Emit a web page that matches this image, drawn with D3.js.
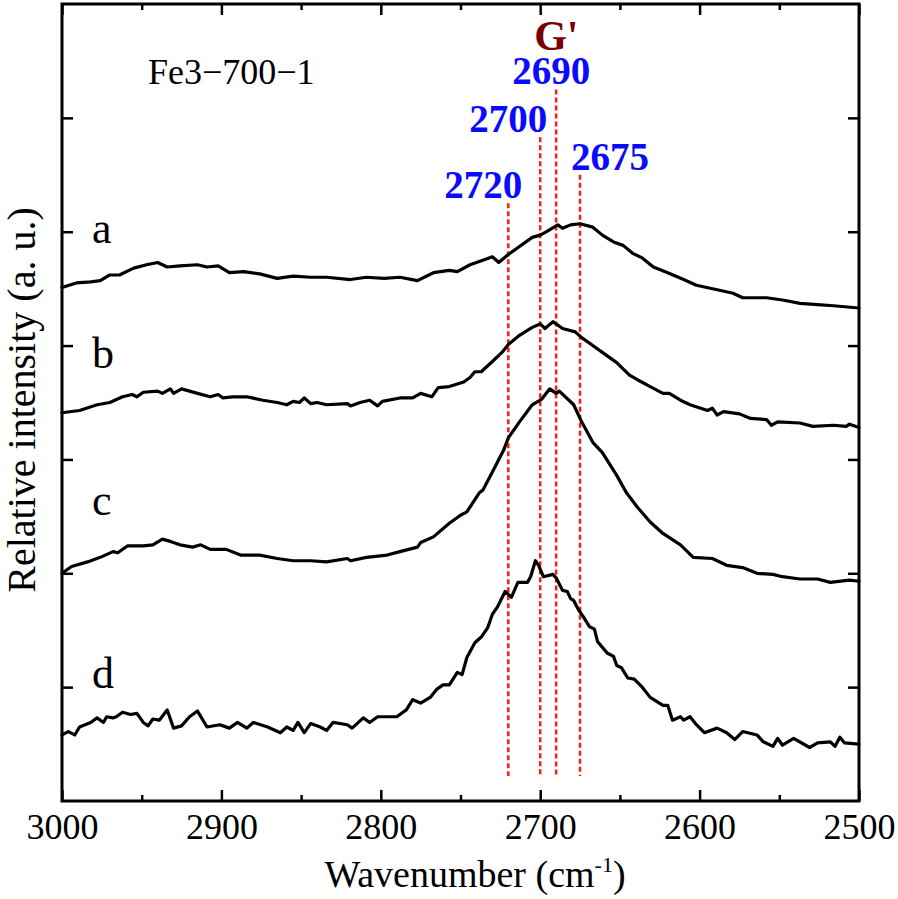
<!DOCTYPE html>
<html>
<head>
<meta charset="utf-8">
<script src="https://cdn.jsdelivr.net/npm/d3@7/dist/d3.min.js"></script>
<style>
  html, body { margin: 0; padding: 0; background: #fff; }
  svg { display: block; }
</style>
</head>
<body>
<svg id="chart" width="898" height="899"></svg>
<script>
// ---------------- data ----------------
const xDomain = [3000, 2500];
const yDomain = [0, 7];
const xMajorTicks = [3000, 2900, 2800, 2700, 2600, 2500];
const xMinorTicks = [2950, 2850, 2750, 2650, 2550];
const yTicks = [1, 2, 3, 4, 5, 6];

const seriesNames = ["a", "b", "c", "d"];

const seriesA = [[3000,4.51],[2991,4.55],[2982,4.56],[2976,4.57],[2970,4.62],[2964,4.62],[2955,4.68],[2947,4.71],[2940,4.73],[2934,4.69],[2926,4.70],[2915,4.71],[2909,4.69],[2902,4.70],[2895,4.64],[2886,4.65],[2876,4.63],[2865,4.59],[2855,4.61],[2844,4.60],[2834,4.60],[2819,4.58],[2809,4.60],[2798,4.59],[2788,4.60],[2777,4.57],[2767,4.64],[2757,4.66],[2752,4.65],[2744,4.71],[2736,4.75],[2730,4.78],[2726,4.73],[2720,4.80],[2713,4.87],[2705,4.95],[2700,4.97],[2696,5.00],[2689,5.06],[2686,5.03],[2681,5.06],[2675,5.07],[2667,5.04],[2661,4.97],[2654,4.91],[2648,4.88],[2642,4.81],[2636,4.77],[2629,4.69],[2620,4.64],[2610,4.58],[2602,4.53],[2589,4.49],[2579,4.46],[2573,4.42],[2558,4.42],[2548,4.40],[2537,4.37],[2526,4.36],[2516,4.35],[2500,4.33]];

const seriesB = [[3000,3.41],[2989,3.43],[2978,3.48],[2970,3.50],[2962,3.55],[2956,3.57],[2953,3.55],[2949,3.59],[2940,3.60],[2937,3.58],[2932,3.62],[2930,3.58],[2925,3.62],[2915,3.58],[2907,3.55],[2902,3.57],[2899,3.54],[2893,3.55],[2884,3.55],[2874,3.52],[2865,3.50],[2859,3.48],[2855,3.51],[2851,3.50],[2848,3.54],[2844,3.49],[2840,3.50],[2834,3.48],[2821,3.49],[2819,3.47],[2813,3.50],[2807,3.52],[2802,3.47],[2799,3.51],[2788,3.54],[2780,3.54],[2775,3.58],[2768,3.55],[2764,3.63],[2757,3.64],[2748,3.68],[2744,3.72],[2741,3.77],[2737,3.77],[2730,3.86],[2724,3.94],[2720,4.01],[2713,4.09],[2705,4.16],[2700,4.19],[2697,4.15],[2692,4.21],[2686,4.15],[2678,4.12],[2674,4.07],[2669,4.02],[2661,3.94],[2652,3.85],[2644,3.74],[2639,3.70],[2631,3.64],[2623,3.58],[2619,3.58],[2612,3.52],[2606,3.48],[2595,3.43],[2592,3.45],[2589,3.39],[2585,3.42],[2575,3.40],[2568,3.36],[2558,3.35],[2555,3.30],[2551,3.33],[2537,3.32],[2529,3.29],[2516,3.30],[2508,3.29],[2506,3.31],[2500,3.28]];

const seriesC = [[3000,2.00],[2994,2.06],[2984,2.10],[2976,2.14],[2968,2.19],[2965,2.18],[2959,2.24],[2949,2.24],[2943,2.25],[2937,2.30],[2932,2.28],[2926,2.25],[2918,2.23],[2913,2.25],[2907,2.21],[2897,2.21],[2888,2.16],[2876,2.16],[2865,2.13],[2855,2.11],[2844,2.11],[2834,2.10],[2821,2.13],[2819,2.11],[2809,2.14],[2796,2.16],[2788,2.19],[2777,2.23],[2775,2.27],[2767,2.32],[2757,2.44],[2750,2.51],[2746,2.54],[2738,2.71],[2736,2.73],[2730,2.89],[2723,3.08],[2720,3.19],[2713,3.33],[2705,3.48],[2699,3.53],[2694,3.62],[2690,3.58],[2688,3.60],[2679,3.48],[2674,3.33],[2667,3.15],[2661,3.06],[2652,2.86],[2646,2.71],[2639,2.58],[2631,2.45],[2623,2.35],[2612,2.25],[2604,2.14],[2592,2.13],[2583,2.07],[2573,2.05],[2564,2.00],[2554,1.99],[2548,1.97],[2537,1.95],[2526,1.95],[2518,1.92],[2506,1.94],[2500,1.93]];

const seriesD = [[3000,0.58],[2996,0.61],[2992,0.58],[2989,0.65],[2982,0.69],[2978,0.73],[2974,0.69],[2972,0.74],[2968,0.73],[2966,0.74],[2962,0.78],[2957,0.76],[2953,0.77],[2949,0.69],[2946,0.66],[2943,0.72],[2939,0.71],[2934,0.80],[2930,0.64],[2925,0.66],[2920,0.74],[2915,0.79],[2909,0.65],[2901,0.67],[2895,0.64],[2890,0.69],[2884,0.64],[2880,0.69],[2871,0.65],[2863,0.60],[2859,0.65],[2855,0.62],[2852,0.69],[2848,0.60],[2844,0.68],[2838,0.65],[2834,0.62],[2830,0.69],[2821,0.67],[2818,0.64],[2811,0.73],[2807,0.69],[2802,0.74],[2796,0.74],[2790,0.74],[2784,0.80],[2780,0.89],[2775,0.86],[2769,0.91],[2765,0.98],[2761,1.02],[2757,1.02],[2752,1.13],[2749,1.11],[2746,1.26],[2741,1.39],[2737,1.44],[2733,1.52],[2730,1.64],[2727,1.70],[2722,1.84],[2718,1.79],[2714,1.92],[2708,1.92],[2706,1.97],[2703,2.11],[2701,2.07],[2698,1.97],[2692,1.99],[2690,1.96],[2686,1.85],[2683,1.84],[2681,1.78],[2679,1.76],[2676,1.68],[2673,1.62],[2669,1.53],[2666,1.51],[2664,1.40],[2658,1.30],[2654,1.27],[2652,1.19],[2649,1.17],[2645,1.08],[2641,1.07],[2636,1.00],[2631,0.91],[2623,0.84],[2620,0.84],[2617,0.71],[2612,0.74],[2610,0.71],[2606,0.74],[2602,0.67],[2597,0.60],[2589,0.64],[2583,0.60],[2578,0.54],[2573,0.61],[2564,0.58],[2560,0.52],[2554,0.48],[2551,0.55],[2548,0.49],[2541,0.55],[2531,0.47],[2526,0.51],[2518,0.52],[2515,0.48],[2512,0.56],[2509,0.51],[2500,0.50]];

const allSeries = [seriesA, seriesB, seriesC, seriesD];

const peakPositions = [2720, 2700, 2690, 2675];
const peakLabels = ["2720", "2700", "2690", "2675"];
const peakLineTops = [5.25, 5.83, 6.25, 5.50];
const peakLineBottom = 0.22;
const bandLabel = "G'";
const sampleLabel = "Fe3\u2212700\u22121";
const xTitle = "Wavenumber (cm";
const xTitleSup = "-1";
const yTitle = "Relative intensity (a. u.)";

// ---------------- layout ----------------
const FONT = "'Liberation Serif', 'Times New Roman', Times, serif";
const margin = { left: 62, right: 898 - 859, top: 4, bottom: 899 - 801 };
const W = 898, H = 899;
const svg = d3.select("#chart").style("font-family", FONT);

const x = d3.scaleLinear().domain(xDomain).range([margin.left, W - margin.right]);
const y = d3.scaleLinear().domain(yDomain).range([H - margin.bottom, margin.top]);

const x0 = x.range()[0], x1 = x.range()[1];
const y0 = y.range()[0], y1 = y.range()[1];

// dashed peak lines
const peakG = svg.append("g");
peakPositions.forEach((p, i) => {
  peakG.append("line")
    .attr("x1", x(p)).attr("x2", x(p))
    .attr("y1", y(peakLineTops[i])).attr("y2", y(peakLineBottom))
    .attr("stroke", "#ff1a1a")
    .attr("stroke-width", 2.5)
    .attr("stroke-dasharray", "5,3");
});

// series lines
const line = d3.line().x(d => x(d[0])).y(d => y(d[1]));
svg.append("g").selectAll("path").data(allSeries).join("path")
  .attr("d", line)
  .attr("fill", "none")
  .attr("stroke", "#000")
  .attr("stroke-width", 3.2)
  .attr("stroke-linejoin", "round")
  .attr("stroke-linecap", "round");

// axes (inward ticks)
const axG = svg.append("g");
const bottomMajor = d3.axisBottom(x).tickValues(xMajorTicks).tickSize(-11).tickFormat(d3.format("d")).tickPadding(12);
const bottomMinor = d3.axisBottom(x).tickValues(xMinorTicks).tickSize(-6).tickFormat("");
const topMajor = d3.axisTop(x).tickValues(xMajorTicks).tickSize(-11).tickFormat("");
const topMinor = d3.axisTop(x).tickValues(xMinorTicks).tickSize(-6).tickFormat("");
const leftAx = d3.axisLeft(y).tickValues(yTicks).tickSize(-11).tickFormat("");
const rightAx = d3.axisRight(y).tickValues(yTicks).tickSize(-11).tickFormat("");

const gB = axG.append("g").attr("transform", `translate(0,${y0})`).call(bottomMajor);
axG.append("g").attr("transform", `translate(0,${y0})`).call(bottomMinor);
axG.append("g").attr("transform", `translate(0,${y1})`).call(topMajor);
axG.append("g").attr("transform", `translate(0,${y1})`).call(topMinor);
axG.append("g").attr("transform", `translate(${x0},0)`).call(leftAx);
axG.append("g").attr("transform", `translate(${x1},0)`).call(rightAx);

axG.selectAll(".domain").remove();
axG.selectAll("g").attr("font-family", null).style("font-family", FONT);
axG.selectAll(".tick line").attr("stroke", "#000").attr("stroke-width", 2.5);
gB.selectAll(".tick text")
  .attr("font-size", 36)
  .attr("fill", "#000")
  .style("font-family", FONT);

// frame
svg.append("rect")
  .attr("x", x0).attr("y", y1)
  .attr("width", x1 - x0).attr("height", y0 - y1)
  .attr("fill", "none").attr("stroke", "#000").attr("stroke-width", 3);

// peak labels
const labelOffsets = [-25, -32, -5, 30];
peakLabels.forEach((t, i) => {
  svg.append("text")
    .attr("x", x(peakPositions[i]) + labelOffsets[i])
    .attr("y", y(peakLineTops[i]) - 5)
    .attr("text-anchor", "middle")
    .attr("font-size", 39)
    .attr("font-weight", "bold")
    .attr("fill", "#0a0aff")
    .style("font-family", FONT)
    .text(t);
});
svg.append("text")
  .attr("x", x(2690) - 22)
  .attr("y", 50)
  .attr("font-size", 42)
  .attr("font-weight", "bold")
  .attr("fill", "#7a0000")
  .style("font-family", FONT)
  .text(bandLabel);

// sample label
svg.append("text")
  .attr("x", 148).attr("y", 84)
  .attr("font-size", 36)
  .attr("fill", "#000")
  .style("font-family", FONT)
  .text(sampleLabel);

// series letters
const letterBaselines = [243, 368, 515, 688];
seriesNames.forEach((n, i) => {
  svg.append("text")
    .attr("x", 92).attr("y", letterBaselines[i])
    .attr("font-size", 44)
    .attr("fill", "#000")
    .style("font-family", FONT)
    .text(n);
});

// axis titles
const xt = svg.append("text")
  .attr("x", 475).attr("y", 887)
  .attr("text-anchor", "middle")
  .attr("font-size", 38)
  .attr("fill", "#000")
  .style("font-family", FONT);
xt.append("tspan").text(xTitle);
xt.append("tspan").attr("font-size", 22).attr("dy", -15).text(xTitleSup);
xt.append("tspan").attr("dy", 15).text(")");

svg.append("text")
  .attr("transform", `translate(35,400) rotate(-90)`)
  .attr("text-anchor", "middle")
  .attr("font-size", 40)
  .attr("fill", "#000")
  .style("font-family", FONT)
  .text(yTitle);
</script>
</body>
</html>
